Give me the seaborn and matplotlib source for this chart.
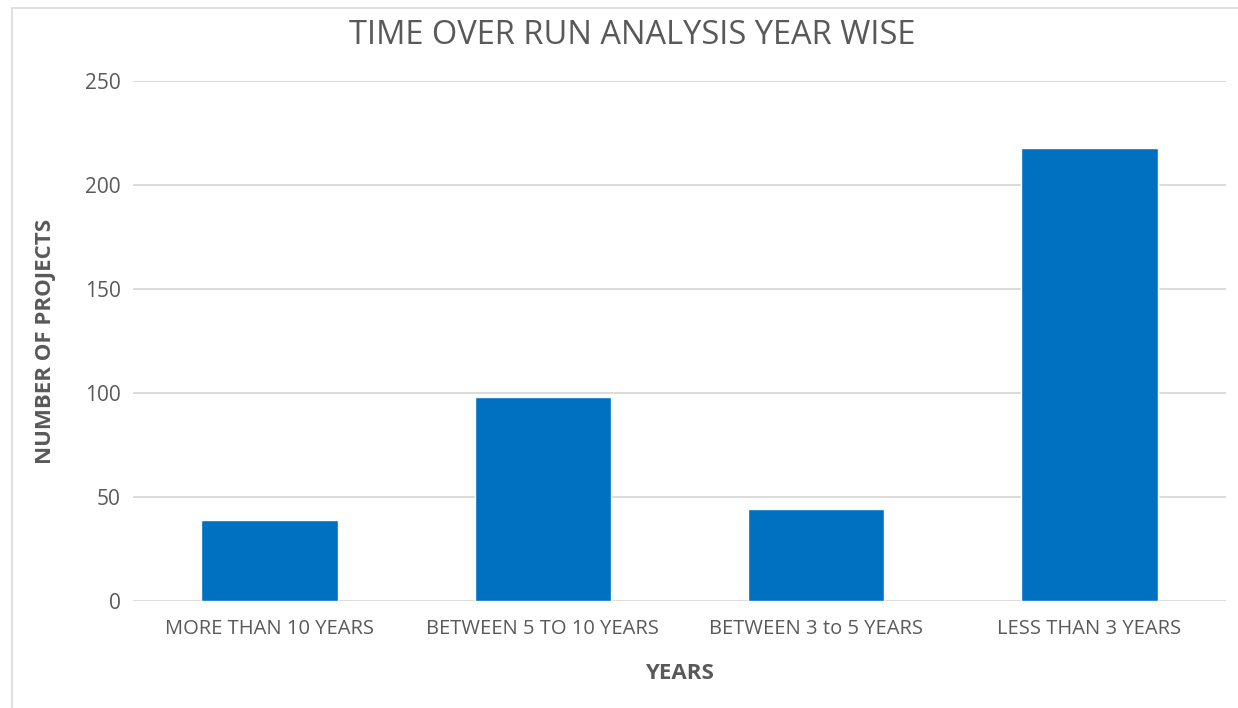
import matplotlib
matplotlib.use("Agg")
import matplotlib.pyplot as plt
import seaborn as sns
import pandas as pd
from matplotlib.patches import Rectangle

categories = ["MORE THAN 10 YEARS", "BETWEEN 5 TO 10 YEARS", "BETWEEN 3 to 5 YEARS", "LESS THAN 3 YEARS"]
projects = [39, 98, 44, 218]
y_ticks = [0, 50, 100, 150, 200, 250]

df = pd.DataFrame({"years": categories, "projects": projects})

sns.set_theme(style="white")
plt.rcParams["font.family"] = ["Open Sans", "DejaVu Sans"]

fig = plt.figure(figsize=(12.38, 7.08), dpi=100)
ax = fig.add_axes([133 / 1238, 1 - 601 / 708, (1226 - 133) / 1238, (601 - 81) / 708])

sns.barplot(data=df, x="years", y="projects", color="#0070C0", saturation=1,
            width=0.5, ax=ax, zorder=3)

ax.set_ylim(0, 250)
ax.set_xlim(-0.5, 3.5)
ax.set_yticks(y_ticks)
ax.yaxis.grid(True, color="#D9D9D9", linewidth=1.3, zorder=0)
ax.set_axisbelow(True)
for s in ax.spines.values():
    s.set_visible(False)
ax.tick_params(axis="both", length=0, colors="#595959")
ax.tick_params(axis="x", labelsize=14.5, pad=13)
ax.tick_params(axis="y", labelsize=15, pad=9)

ax.set_xlabel("YEARS", fontsize=16, fontweight="bold", color="#595959")
ax.set_ylabel("NUMBER OF PROJECTS", fontsize=16, fontweight="bold", color="#595959")
ax.xaxis.set_label_coords(0.5, (601 - 663) / 520)
ax.yaxis.set_label_coords((56 - 133) / 1093, 0.5)
fig.text(632 / 1238, 1 - 36 / 708, "TIME OVER RUN ANALYSIS YEAR WISE",
         ha="center", va="center", fontsize=23.5, color="#595959")

# chart area frame
fig.patches.append(Rectangle((12 / 1238, -0.01), 1.0, 1 - 8 / 708 + 0.01,
                             transform=fig.transFigure, fill=False,
                             edgecolor="#D9D9D9", linewidth=1.2))

fig.savefig("out.png", dpi=100, facecolor="white")
